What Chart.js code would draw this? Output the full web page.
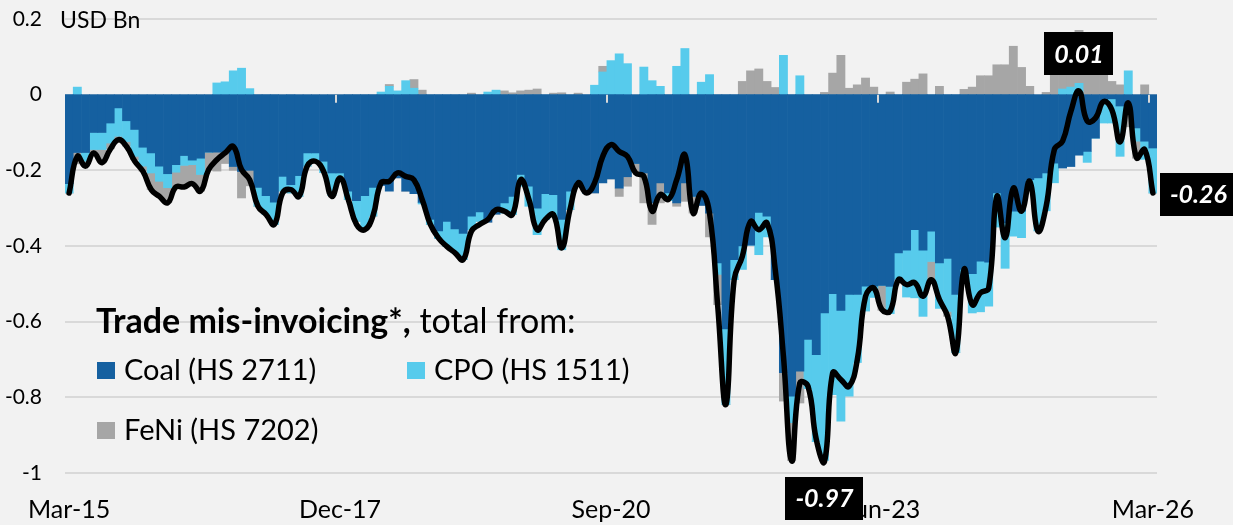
<!DOCTYPE html>
<html>
<head>
<meta charset="utf-8">
<title>Trade mis-invoicing</title>
<script src="https://cdn.jsdelivr.net/npm/chart.js@4.4.1/dist/chart.umd.min.js"></script>
<style>
    html, body { margin: 0; padding: 0; background: #f2f2f2; }
    .chart-wrap { position: relative; width: 1233px; height: 525px; }
</style>
</head>
<body>
<div class="chart-wrap"><canvas id="misinvoicing-chart"></canvas></div>
<script>
// Monthly, Mar-15 .. Mar-26 (USD Bn). One row per year, starting in March.
const coal = [
    -0.235, -0.153, -0.153, -0.100, -0.100, -0.075, -0.035, -0.069, -0.092, -0.139, -0.154, -0.189,
    -0.209, -0.185, -0.161, -0.173, -0.168, -0.152, -0.152, -0.152, -0.190, -0.203, -0.200, -0.245,
    -0.267, -0.284, -0.216, -0.238, -0.214, -0.154, -0.154, -0.176, -0.207, -0.207, -0.255, -0.280,
    -0.267, -0.245, -0.240, -0.255, -0.220, -0.255, -0.262, -0.285, -0.330, -0.360, -0.335, -0.355,
    -0.367, -0.321, -0.310, -0.337, -0.316, -0.286, -0.269, -0.211, -0.242, -0.300, -0.262, -0.264,
    -0.330, -0.255, -0.242, -0.260, -0.260, -0.233, -0.223, -0.247, -0.217, -0.182, -0.207, -0.286,
    -0.233, -0.260, -0.286, -0.233, -0.269, -0.293, -0.313, -0.445, -0.619, -0.436, -0.400, -0.398,
    -0.311, -0.321, -0.489, -0.735, -0.797, -0.731, -0.647, -0.687, -0.577, -0.526, -0.570, -0.528,
    -0.528, -0.506, -0.506, -0.504, -0.507, -0.418, -0.411, -0.357, -0.411, -0.361, -0.445, -0.433,
    -0.528, -0.462, -0.473, -0.440, -0.443, -0.260, -0.339, -0.308, -0.308, -0.225, -0.220, -0.207,
    -0.181, -0.194, -0.190, -0.160, -0.150, -0.115, -0.022, -0.011, -0.030, -0.048, -0.088, -0.123,
    -0.141,
];
const cpo = [
    -0.025, 0.020, -0.023, -0.045, -0.045, -0.053, -0.075, -0.055, -0.071, -0.050, -0.053, -0.040,
    -0.037, -0.020, -0.026, -0.012, -0.043, 0, 0.031, 0.034, 0.063, 0.070, 0.016, -0.050,
    -0.050, -0.059, -0.039, -0.022, -0.055, -0.035, -0.018, -0.030, -0.060, -0.009, -0.022, -0.055,
    -0.090, -0.076, 0.007, 0.022, 0.010, 0.037, 0.017, -0.004, -0.013, -0.020, -0.066, -0.063,
    -0.069, -0.036, -0.025, 0.007, 0.012, -0.027, -0.048, -0.031, -0.053, -0.070, -0.068, -0.057,
    -0.080, -0.049, 0, 0, 0.025, 0.060, 0.090, 0.108, 0.082, 0, 0.073, 0.037,
    0.022, -0.020, 0.075, 0.122, 0, 0.033, 0.053, -0.030, -0.200, -0.053, -0.062, 0,
    -0.112, -0.055, 0, 0.104, -0.070, 0.050, -0.130, -0.230, -0.390, -0.267, -0.293, -0.269,
    -0.180, -0.066, -0.030, 0, -0.072, -0.070, -0.124, -0.180, -0.175, -0.080, -0.120, -0.140,
    -0.154, -0.014, -0.104, -0.134, -0.116, -0.090, -0.120, -0.066, -0.070, -0.026, -0.140, -0.100,
    -0.052, 0.015, 0.020, 0.030, -0.029, 0, -0.053, -0.064, -0.133, 0.063, -0.035, -0.048,
    -0.119,
];
const feni = [
    0, -0.030, -0.013, -0.009, -0.035, -0.015, -0.010, -0.012, -0.009, -0.013, -0.044, -0.040,
    -0.040, -0.038, -0.051, -0.050, -0.044, -0.048, -0.050, -0.030, -0.010, -0.070, -0.041, 0,
    0, 0, 0, 0, 0, 0, 0, 0, 0, 0, 0, 0,
    0, 0, 0, 0.005, 0, 0, 0.023, 0.012, 0, 0, 0, 0,
    0, 0.004, 0, 0, 0, 0.010, 0.005, 0.010, 0.012, 0.015, 0, 0.004,
    0.005, 0, 0.004, 0, 0, 0.015, 0, -0.022, -0.025, -0.021, -0.079, -0.057,
    -0.053, 0, -0.009, -0.049, -0.044, 0, -0.063, -0.080, 0, 0, 0.035, 0.063,
    0.068, 0.035, 0.019, -0.075, -0.100, -0.084, 0, 0, 0.006, 0.057, 0.104, 0.017,
    0.026, 0.044, 0.020, -0.066, 0.007, 0, 0.033, 0.041, 0.055, -0.050, 0.022, -0.013,
    0, 0.014, 0.020, 0.050, 0.050, 0.079, 0.079, 0.128, 0.072, 0.022, 0, 0.006,
    0.088, 0.056, 0.120, 0.140, 0.109, 0.053, 0.057, 0.035, 0.026, -0.037, -0.045, 0.026,
    0,
];
const total = [
    -0.260, -0.163, -0.189, -0.154, -0.180, -0.145, -0.119, -0.137, -0.176, -0.203, -0.251, -0.269,
    -0.286, -0.244, -0.244, -0.235, -0.255, -0.198, -0.172, -0.154, -0.137, -0.198, -0.225, -0.295,
    -0.317, -0.343, -0.260, -0.251, -0.269, -0.189, -0.176, -0.203, -0.269, -0.220, -0.277, -0.343,
    -0.357, -0.321, -0.233, -0.229, -0.207, -0.216, -0.225, -0.277, -0.343, -0.379, -0.401, -0.418,
    -0.436, -0.361, -0.343, -0.330, -0.304, -0.308, -0.317, -0.225, -0.277, -0.357, -0.330, -0.317,
    -0.405, -0.304, -0.233, -0.260, -0.233, -0.163, -0.132, -0.150, -0.163, -0.207, -0.216, -0.308,
    -0.264, -0.277, -0.225, -0.159, -0.313, -0.260, -0.313, -0.559, -0.819, -0.489, -0.427, -0.335,
    -0.357, -0.339, -0.462, -0.691, -0.968, -0.762, -0.771, -0.911, -0.970, -0.735, -0.753, -0.771,
    -0.700, -0.533, -0.511, -0.568, -0.572, -0.489, -0.502, -0.497, -0.533, -0.489, -0.542, -0.586,
    -0.682, -0.462, -0.555, -0.524, -0.511, -0.269, -0.378, -0.247, -0.308, -0.229, -0.361, -0.295,
    -0.145, -0.123, -0.045, 0.010, -0.070, -0.062, -0.018, -0.040, -0.125, -0.022, -0.167, -0.145,
    -0.260,
];
const tickLabels = ['Mar-15', 'Dec-17', 'Sep-20', 'Jun-23', 'Mar-26'];
const monthNames = ['Jan', 'Feb', 'Mar', 'Apr', 'May', 'Jun', 'Jul', 'Aug', 'Sep', 'Oct', 'Nov', 'Dec'];

const months = [];
for (let i = 0; i < coal.length; i++) {
    const m = 2 + i; // first month is March 2015
    months.push(monthNames[m % 12] + '-' + (15 + Math.floor(m / 12)));
}

const FONT = 'Lato, "Open Sans", sans-serif';
const colors = {
    coal: '#1560a0',
    cpo: '#57cbec',
    feni: '#a6a6a6',
    grid: '#d9d9d9',
    text: '#000000',
};

function indexOf(arr, pick) {
    let best = 0;
    arr.forEach((v, i) => { if (pick(v, arr[best])) best = i; });
    return best;
}

function drawValueBox(ctx, text, cx, cy) {
    const w = ctx.measureText(text).width + 20;
    const h = 43;
    ctx.fillStyle = '#000';
    ctx.fillRect(Math.round(cx - w / 2), Math.round(cy - h / 2), Math.round(w), h);
    ctx.fillStyle = '#fff';
    ctx.fillText(text, cx, cy + 1);
}

// black value boxes on the max, min and last point of the total line
const valueBoxes = {
    id: 'valueBoxes',
    afterDatasetsDraw(chart) {
        const ctx = chart.ctx;
        const pts = chart.getDatasetMeta(0).data;
        const area = chart.chartArea;
        const iMax = indexOf(total, (a, b) => a > b);
        const iMin = indexOf(total, (a, b) => a < b);
        const iLast = total.length - 1;

        ctx.save();
        ctx.font = 'italic bold 25px ' + FONT;
        ctx.textAlign = 'center';
        ctx.textBaseline = 'middle';

        drawValueBox(ctx, total[iMax].toFixed(2), pts[iMax].x, pts[iMax].y - 37);
        drawValueBox(ctx, total[iMin].toFixed(2), pts[iMin].x, area.bottom + 25);
        const lastText = total[iLast].toFixed(2);
        const lw = ctx.measureText(lastText).width + 20;
        drawValueBox(ctx, lastText, pts[iLast].x + 7 + lw / 2, pts[iLast].y + 1);
        ctx.restore();
    },
};

// small tick marks on the zero line, every 33 months
const zeroTicks = {
    id: 'zeroTicks',
    afterDatasetsDraw(chart) {
        const ctx = chart.ctx;
        const x = chart.scales.x;
        const y0 = chart.scales.y.getPixelForValue(0);
        const half = (x.getPixelForValue(1) - x.getPixelForValue(0)) / 2;
        ctx.save();
        ctx.strokeStyle = colors.grid;
        ctx.lineWidth = 2;
        months.forEach((label, i) => {
            if (i === 0 || !tickLabels.includes(label)) return;
            const px = Math.round(x.getPixelForValue(i) - half);
            ctx.beginPath();
            ctx.moveTo(px, y0);
            ctx.lineTo(px, y0 + 8);
            ctx.stroke();
        });
        ctx.restore();
    },
};

// unit label and the in-plot legend
const textLayer = {
    id: 'textLayer',
    afterDraw(chart) {
        const ctx = chart.ctx;
        ctx.save();
        ctx.fillStyle = colors.text;
        ctx.textBaseline = 'alphabetic';

        ctx.font = '23px ' + FONT;
        ctx.fillText('USD Bn', 60, 28);

        ctx.font = 'bold 34px ' + FONT;
        const bold = 'Trade mis-invoicing*,';
        ctx.fillText(bold, 96, 333);
        const bw = ctx.measureText(bold).width;
        ctx.font = '34px ' + FONT;
        ctx.fillText(' total from:', 96 + bw, 333);

        const items = [
            { text: 'Coal (HS 2711)', color: colors.coal, x: 97, y: 380 },
            { text: 'CPO (HS 1511)', color: colors.cpo, x: 407, y: 380 },
            { text: 'FeNi (HS 7202)', color: colors.feni, x: 97, y: 440 },
        ];
        ctx.font = '29px ' + FONT;
        items.forEach((it) => {
            ctx.fillStyle = it.color;
            ctx.fillRect(it.x, it.y - 18, 18, 17);
            ctx.fillStyle = colors.text;
            ctx.fillText(it.text, it.x + 27, it.y);
        });
        ctx.restore();
    },
};

const barDefaults = {
    stack: 'bars',
    order: 1,
    categoryPercentage: 1,
    barPercentage: 1,
    borderWidth: 0,
};

new Chart(document.getElementById('misinvoicing-chart').getContext('2d'), {
    type: 'bar',
    data: {
        labels: months,
        datasets: [
            {
                type: 'line',
                label: 'Total',
                data: total,
                stack: 'total',
                order: 0,
                borderColor: '#000',
                borderWidth: 5.5,
                borderCapStyle: 'round',
                borderJoinStyle: 'round',
                pointRadius: 0,
                tension: 0.45,
                fill: false,
            },
            Object.assign({ label: 'Coal (HS 2711)', data: coal, backgroundColor: colors.coal }, barDefaults),
            Object.assign({ label: 'CPO (HS 1511)', data: cpo, backgroundColor: colors.cpo }, barDefaults),
            Object.assign({ label: 'FeNi (HS 7202)', data: feni, backgroundColor: colors.feni }, barDefaults),
        ],
    },
    options: {
        responsive: true,
        maintainAspectRatio: false,
        animation: false,
        layout: { padding: { top: 19, right: 76, bottom: 0, left: 0 } },
        plugins: {
            legend: { display: false },
            tooltip: { enabled: false },
        },
        scales: {
            x: {
                stacked: true,
                grid: { display: false, drawTicks: false },
                border: { display: false },
                ticks: {
                    autoSkip: false,
                    maxRotation: 0,
                    padding: 22,
                    color: colors.text,
                    font: { family: FONT, size: 25 },
                    callback: function (value) {
                        const label = this.getLabelForValue(value);
                        return tickLabels.includes(label) ? label : '';
                    },
                },
                afterFit: (scale) => {
                    scale.height = 52;
                    scale.paddingLeft = 0;
                    scale.paddingRight = 0;
                },
            },
            y: {
                stacked: true,
                min: -1,
                max: 0.2,
                grid: { color: colors.grid, lineWidth: 2, drawTicks: false },
                border: { display: false },
                ticks: {
                    stepSize: 0.2,
                    padding: 23,
                    color: colors.text,
                    font: { family: FONT, size: 21 },
                    callback: (v) => String(Number(v.toFixed(1))),
                },
                afterFit: (scale) => {
                    scale.width = 65;
                    scale.paddingTop = 0;
                    scale.paddingBottom = 0;
                },
            },
        },
    },
    plugins: [zeroTicks, valueBoxes, textLayer],
});
</script>
</body>
</html>
